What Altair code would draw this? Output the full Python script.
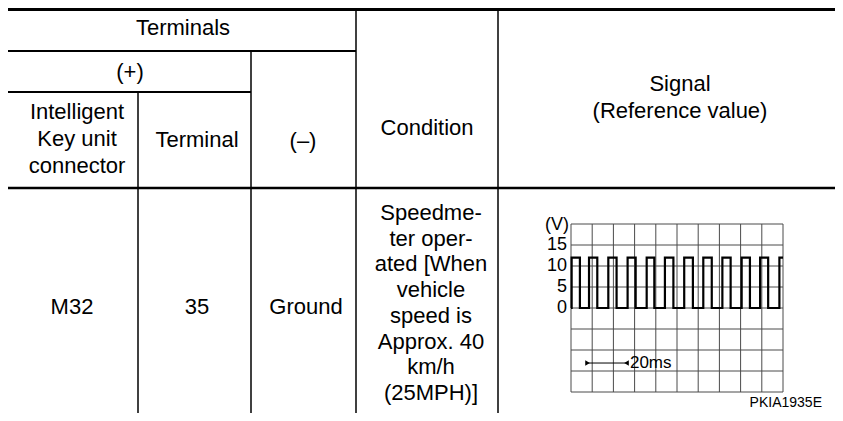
import altair as alt
import pandas as pd

# ---------------- table content ----------------
header_top = "Terminals"
header_plus = "(+)"
header_conn = ["Intelligent", "Key unit", "connector"]
header_term = "Terminal"
header_minus = "(–)"
header_cond = "Condition"
header_signal = ["Signal", "(Reference value)"]
row_connector = "M32"
row_terminal = "35"
row_minus = "Ground"
row_condition = ["Speedme-", "ter oper-", "ated [When", "vehicle",
                 "speed is", "Approx. 40", "km/h", "(25MPH)]"]
figure_code = "PKIA1935E"

# ---------------- waveform values (ms / V) ----------------
rise_ms = [0.3, 8.5, 17.6, 26.7, 35.7, 44.3, 53.4, 62.4, 71.4, 80.5, 89.2, 98.3]
fall_ms = [4.2, 12.4, 21.5, 30.5, 39.3, 48.3, 57.5, 66.4, 75.3, 84.4, 93.0]
high_v = 12
low_v = 0
end_ms = 100
volt_ticks = [0, 5, 10, 15]
volt_unit = "(V)"
time_grid = [0, 10, 20, 30, 40, 50, 60, 70, 80, 90, 100]
volt_grid = [-20, -15, -10, -5, 0, 5, 10, 15, 20]
span_ms = [7, 27]
span_label = "20ms"

# ---------------- layout (page pixels) ----------------
W, H = 827, 405
OX, OY = 8, 8
FONT = "Liberation Sans"
FS = 22

xs_tab = alt.Scale(domain=[OX, OX + W], range=[0, W])
ys_tab = alt.Scale(domain=[OY, OY + H], range=[0, H])

rules = pd.DataFrame(
    [
        (7, 843, 9.5, 9.5, 3),
        (7, 356, 51, 51, 2),
        (7, 251, 92, 92, 2),
        (7, 843, 188, 188, 2.5),
        (138, 138, 92, 421, 1.5),
        (251, 251, 51, 421, 1.5),
        (356, 356, 9, 421, 1.5),
        (498, 498, 9, 421, 1.5),
    ],
    columns=["x", "x2", "y", "y2", "w"],
)

text_rows = []
def put(t, x, y, fs=FS, align="center"):
    text_rows.append({"text": t, "x": x, "y": y, "fs": fs, "align": align})

put(header_top, 183, 28)
put(header_plus, 130, 72)
for i, t in enumerate(header_conn):
    put(t, 77, 139 + (i - 1) * 27)
put(header_term, 197, 140)
put(header_minus, 303, 141)
put(header_cond, 427, 128)
for i, t in enumerate(header_signal):
    put(t, 680, 84 + i * 26.5)
put(row_connector, 72, 307)
put(row_terminal, 197, 307)
put(row_minus, 306, 307)
n = len(row_condition)
for i, t in enumerate(row_condition):
    put(t, 431, 303 + (i - (n - 1) / 2) * 25.7)
texts = pd.DataFrame(text_rows)
code_df = pd.DataFrame([{"text": figure_code, "x": 822, "y": 403}])

table_rules = alt.Chart(rules).mark_rule(color="black").encode(
    x=alt.X("x:Q", scale=xs_tab, axis=None),
    x2="x2:Q",
    y=alt.Y("y:Q", scale=ys_tab, axis=None),
    y2="y2:Q",
    strokeWidth=alt.StrokeWidth("w:Q", scale=None),
)
table_text = alt.Chart(texts).mark_text(font=FONT, baseline="middle", color="black").encode(
    x=alt.X("x:Q", scale=xs_tab, axis=None),
    y=alt.Y("y:Q", scale=ys_tab, axis=None),
    text="text:N",
    size=alt.Size("fs:Q", scale=None),
)
code_text = alt.Chart(code_df).mark_text(font=FONT, fontSize=14, align="right",
                                         baseline="middle", color="black").encode(
    x=alt.X("x:Q", scale=xs_tab, axis=None),
    y=alt.Y("y:Q", scale=ys_tab, axis=None),
    text="text:N",
)
table = alt.layer(table_rules, table_text, code_text)

# ---------------- waveform panel ----------------
xs_w = alt.Scale(domain=[0, 100], range=[571 - OX, 783 - OX])
ys_w = alt.Scale(domain=[-20, 20], range=[392 - OY, 224 - OY])

pts = [(0.0, low_v)]
for i, r in enumerate(rise_ms):
    pts += [(r, low_v), (r, high_v)]
    if i < len(fall_ms):
        pts += [(fall_ms[i], high_v), (fall_ms[i], low_v)]
pts.append((end_ms, high_v))
wave_df = pd.DataFrame(pts, columns=["t", "v"])
wave_df["i"] = range(len(wave_df))

vgrid = pd.DataFrame({"t": time_grid, "v0": volt_grid[0], "v1": volt_grid[-1]})
hgrid = pd.DataFrame({"v": volt_grid, "t0": time_grid[0], "t1": time_grid[-1]})
tick_df = pd.DataFrame({"v": volt_ticks, "label": [str(v) for v in volt_ticks]})
unit_df = pd.DataFrame({"v": [19.7], "label": [volt_unit]})
span_df = pd.DataFrame({"t0": [span_ms[0]], "t1": [span_ms[1]], "v": [-13.1]})
heads_df = pd.DataFrame({"t": [span_ms[0] + 0.8, span_ms[1] - 0.8], "v": [-13.1, -13.1],
                         "shape": ["triangle-right", "triangle-left"]})
span_text_df = pd.DataFrame({"t": [span_ms[1] + 0.8], "v": [-13.1], "label": [span_label]})

gx = alt.X("t:Q", scale=xs_w, axis=None)
gy = alt.Y("v:Q", scale=ys_w, axis=None)

grid_v = alt.Chart(vgrid).mark_rule(color="#4a4a4a", strokeWidth=1).encode(
    x=gx, y=alt.Y("v0:Q", scale=ys_w, axis=None), y2="v1:Q")
grid_h = alt.Chart(hgrid).mark_rule(color="#4a4a4a", strokeWidth=1).encode(
    y=gy, x=alt.X("t0:Q", scale=xs_w, axis=None), x2="t1:Q")
wave = alt.Chart(wave_df).mark_line(color="black", strokeWidth=2.2, interpolate="linear").encode(
    x=gx, y=gy, order="i:Q")
ticks = alt.Chart(tick_df).mark_text(font=FONT, fontSize=18, align="right", baseline="middle",
                                     color="black").encode(
    x=alt.value(567 - OX), y=gy, text="label:N")
unit = alt.Chart(unit_df).mark_text(font=FONT, fontSize=18, align="right", baseline="middle",
                                    color="black").encode(
    x=alt.value(569 - OX), y=gy, text="label:N")
span_line = alt.Chart(span_df).mark_rule(color="black", strokeWidth=1).encode(
    x=alt.X("t0:Q", scale=xs_w, axis=None), x2="t1:Q", y=gy)
heads = alt.Chart(heads_df).mark_point(filled=True, color="black", size=28, opacity=1).encode(
    x=gx, y=gy, shape=alt.Shape("shape:N", scale=None))
span_text = alt.Chart(span_text_df).mark_text(font=FONT, fontSize=17, align="left",
                                              baseline="middle", color="black").encode(
    x=gx, y=gy, text="label:N")

wave_panel = alt.layer(grid_v, grid_h, wave, ticks, unit, span_line, heads, span_text)

chart = (
    alt.layer(table, wave_panel)
    .resolve_scale(x="independent", y="independent")
    .properties(width=W, height=H, padding=0, autosize=alt.AutoSizeParams(type="none"),
                background="white")
    .configure_view(stroke=None)
)

chart.save("out.html", embed_options={"renderer": "svg", "actions": False})
